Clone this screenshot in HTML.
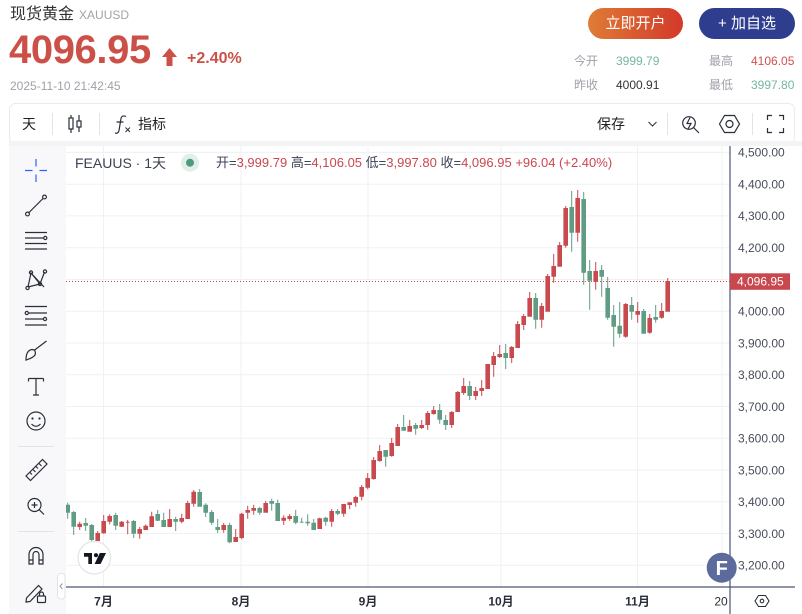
<!DOCTYPE html>
<html><head><meta charset="utf-8">
<style>
*{margin:0;padding:0;box-sizing:border-box}
html,body{width:802px;height:614px;overflow:hidden;background:#fff;font-family:"Liberation Sans","Noto Sans CJK SC",sans-serif}
.a{position:absolute;white-space:nowrap}
.r{color:#c9474e}
svg{position:absolute;left:0;top:0}
</style></head><body>
<svg width="802" height="614" viewBox="0 0 802 614" xmlns="http://www.w3.org/2000/svg">
  <!-- toolbar card -->
  <rect x="9.5" y="103.5" width="785" height="40" rx="6" fill="#fff" stroke="#ebebef"/>
  <rect x="9" y="141" width="793" height="5" fill="#f3f4f6"/>
  <rect x="9" y="146" width="57" height="468" fill="#f8f8fa"/>
  <!-- toolbar separators -->
  <g stroke="#e0e3eb" stroke-width="1">
    <line x1="52.5" y1="113" x2="52.5" y2="135"/>
    <line x1="99.5" y1="113" x2="99.5" y2="135"/>
    <line x1="667.5" y1="113" x2="667.5" y2="135"/>
    <line x1="752.5" y1="113" x2="752.5" y2="135"/>
  </g>
  <!-- toolbar icons -->
  <g stroke="#2a2e39" stroke-width="1.2" fill="none">
    <path d="M71 115V133M79 115V132"/>
    <rect x="69" y="118" width="4" height="11" fill="#fff"/>
    <rect x="77" y="121" width="4" height="6" fill="#fff"/>
    <path d="M126 116.5Q121.5 114.5 120.8 119.5L119 130.5Q118.3 134 115 133M116.5 122H123.5"/>
    <path d="M125.5 127.5L130 132M130 127.5L125.5 132" stroke-width="1"/>
    <path d="M648.5 122L652.5 126L656.5 122" stroke-width="1"/>
    <circle cx="689" cy="123" r="6.3"/>
    <path d="M693.5 127.5L699 133M690 117.5L687 123.5H691L688 129"/>
    <path d="M719.5 124L724.5 115.5H734.5L739.5 124L734.5 132.5H724.5Z"/>
    <circle cx="729.5" cy="124" r="3.5"/>
    <path d="M767.5 120V115.5H772M779 115.5H783.5V120M783.5 128V132.5H779M772 132.5H767.5V128"/>
  </g>
  <!-- chart grid -->
  <g stroke="#f0f1f4" stroke-width="1">
    <path d="M66 152.4H730M66 184.2H730M66 215.9H730M66 247.7H730M66 279.5H730M66 311.2H730M66 343H730M66 374.7H730M66 406.5H730M66 438.2H730M66 470H730M66 501.7H730M66 533.5H730M66 565.2H730"/>
    <path d="M103.5 146V587M241 146V587M368 146V587M501 146V587M637.5 146V587M722 146V587"/>
  </g>
  <!-- candles -->
  <defs><clipPath id="cc"><rect x="66" y="146" width="664" height="441"/></clipPath></defs>
  <g clip-path="url(#cc)" stroke-width="1">
    <path fill="#5f9c83" stroke="#5f9c83" d="M67.7 502.7V518.7M65.9 505.2h3.6v7h-3.6zM73.7 511V535M71.9 512.5h3.6v13.7h-3.6zM85.7 518V531M83.9 523.5h3.6v1.7h-3.6zM91.7 524V544M89.9 525.5h3.6v14h-3.6zM115.7 512.7V530M113.9 515.5h3.6v9.7h-3.6zM133.7 520V538M131.9 521.5h3.6v11.7h-3.6zM157.7 510V521M155.9 514.5h3.6v5.7h-3.6zM163.7 512.7V527M161.9 520.5h3.6v6h-3.6zM175.7 516.7V531M173.9 519.5h3.6v1.7h-3.6zM199.7 489V506.7M197.9 492.5h3.6v13.7h-3.6zM205.7 503.3V517M203.9 505.2h3.6v7h-3.6zM211.7 510V525M209.9 512.5h3.6v9.7h-3.6zM217.7 519V533M215.9 527.5h3.6v2h-3.6zM229.7 522.7V543.3M227.9 525.5h3.6v16.3h-3.6zM259.7 506.7V514.7M257.9 508.5h3.6v3.7h-3.6zM271.7 498.7V510.7M269.9 501.5h3.6v1.7h-3.6zM277.7 499.7V521M275.9 503.5h3.6v17h-3.6zM295.7 510V524.3M293.9 516.5h3.6v5.7h-3.6zM301.7 517.7V522.7M299.9 522.2h3.6v0h-3.6zM307.7 514.3V525.7M305.9 522.2h3.6v0.6h-3.6zM313.7 519V530M311.9 523.2h3.6v6.3h-3.6zM325.7 516.7V525.7M323.9 518.2h3.6v3h-3.6zM337.7 509V515.3M335.9 511.5h3.6v1.7h-3.6zM385.7 450V466.7M383.9 450.5h3.6v5.7h-3.6zM403.7 415V430.7M401.9 427.5h3.6v2.7h-3.6zM415.7 423V434.7M413.9 425.5h3.6v2.7h-3.6zM439.7 404V423.7M437.9 410.5h3.6v8.7h-3.6zM445.7 415V430M443.9 420.5h3.6v4h-3.6zM469.7 381V400M467.9 386.5h3.6v9h-3.6zM505.7 344V369M503.9 353.5h3.6v4h-3.6zM535.7 293V328.7M533.9 298.5h3.6v20.7h-3.6zM571.7 191V251.7M569.9 207.5h3.6v24.7h-3.6zM583.7 192V284.7M581.9 199.5h3.6v72.7h-3.6zM589.7 260V309.7M587.9 271.5h3.6v8.7h-3.6zM601.7 265V296.7M599.9 270.5h3.6v5.7h-3.6zM607.7 277V319.7M605.9 288.5h3.6v28.7h-3.6zM613.7 305V346.7M611.9 315.5h3.6v10.7h-3.6zM619.7 302V337.7M617.9 326.2h3.6v7h-3.6zM631.7 297V319.7M629.9 305.5h3.6v5.7h-3.6zM643.7 309V333.7M641.9 311.5h3.6v21.7h-3.6zM655.7 305V322.7M653.9 317.5h3.6v1.7h-3.6z"/>
    <path fill="#c84a4e" stroke="#c84a4e" d="M79.7 521.7V530M77.9 524.2h3.6v2.3h-3.6zM97.7 531V541M95.9 533.5h3.6v7h-3.6zM103.7 515V533.7M101.9 521.5h3.6v11.2h-3.6zM109.7 514.3V524.3M107.9 516.5h3.6v4.7h-3.6zM121.7 521V527M119.9 522.2h3.6v4h-3.6zM127.7 520V534.3M125.9 522.2h3.6v0h-3.6zM139.7 527V538.7M137.9 529.5h3.6v3.7h-3.6zM145.7 524.5V530M143.9 526.2h3.6v3.3h-3.6zM151.7 511.7V527M149.9 516.8h3.6v9.7h-3.6zM169.7 509V527M167.9 519.5h3.6v7h-3.6zM181.7 513.7V523.3M179.9 518.5h3.6v2.7h-3.6zM187.7 500.7V519M185.9 503.5h3.6v15h-3.6zM193.7 490V506.7M191.9 492.2h3.6v11h-3.6zM223.7 523V532.7M221.9 525.5h3.6v4h-3.6zM235.7 529V542M233.9 537.5h3.6v4h-3.6zM241.7 512.7V539.3M239.9 514.2h3.6v23.3h-3.6zM247.7 505.7V518.7M245.9 510.5h3.6v1.7h-3.6zM253.7 504.7V514.7M251.9 508.5h3.6v1.7h-3.6zM265.7 501V512.7M263.9 503.5h3.6v8.7h-3.6zM283.7 515.3V525M281.9 518.2h3.6v2h-3.6zM289.7 514V520.7M287.9 516.5h3.6v2h-3.6zM319.7 517.7V529M317.9 518.8h3.6v9.7h-3.6zM331.7 509V526.7M329.9 511.5h3.6v9.7h-3.6zM343.7 504V516.7M341.9 504.5h3.6v8.7h-3.6zM349.7 502.3V509.3M347.9 502.8h3.6v1.7h-3.6zM355.7 495.7V506.7M353.9 497.5h3.6v4.7h-3.6zM361.7 485V500.3M359.9 487.5h3.6v8.7h-3.6zM367.7 473V489.3M365.9 478.5h3.6v8.7h-3.6zM373.7 457V479.7M371.9 460.5h3.6v18h-3.6zM379.7 445V461.7M377.9 451.5h3.6v9h-3.6zM391.7 438V456.7M389.9 443.5h3.6v12h-3.6zM397.7 424V446M395.9 427.5h3.6v18h-3.6zM409.7 420V431.7M407.9 426.5h3.6v4.7h-3.6zM421.7 420V429M419.9 425.5h3.6v2h-3.6zM427.7 411V430M425.9 413.5h3.6v11h-3.6zM433.7 406V414.7M431.9 410.5h3.6v3h-3.6zM451.7 411V428M449.9 412.5h3.6v12h-3.6zM457.7 391V412M455.9 392.5h3.6v19h-3.6zM463.7 378V395M461.9 386.5h3.6v6h-3.6zM475.7 387V400M473.9 391.5h3.6v4h-3.6zM481.7 380V396M479.9 388.5h3.6v2h-3.6zM487.7 364V389M485.9 364.5h3.6v24h-3.6zM493.7 352V376.7M491.9 356.5h3.6v8h-3.6zM499.7 345V358M497.9 354.5h3.6v2h-3.6zM511.7 346V363M509.9 347.5h3.6v10h-3.6zM517.7 321V348M515.9 324.5h3.6v23h-3.6zM523.7 314V330M521.9 316.5h3.6v8h-3.6zM529.7 292V316.7M527.9 298.5h3.6v17.7h-3.6zM541.7 303V327.7M539.9 306.5h3.6v12.7h-3.6zM547.7 274V311.7M545.9 276.5h3.6v34.7h-3.6zM553.7 254V282.7M551.9 266.5h3.6v9.7h-3.6zM559.7 242V266.7M557.9 245.5h3.6v20.7h-3.6zM565.7 206V247.7M563.9 208.5h3.6v36.7h-3.6zM577.7 190V241.7M575.9 198.5h3.6v33.7h-3.6zM595.7 262V289.7M593.9 271.5h3.6v9.7h-3.6zM625.7 303V337.7M623.9 304.5h3.6v31.7h-3.6zM637.7 302V322.7M635.9 311.5h3.6v2.7h-3.6zM649.7 314V333.7M647.9 318.5h3.6v13.7h-3.6zM661.7 303V318.7M659.9 311.5h3.6v5.7h-3.6zM667.7 278V311.7M665.9 281.5h3.6v29.7h-3.6z"/>
  </g>
  <!-- last price dotted line -->
  <line x1="66" y1="281.5" x2="730" y2="281.5" stroke="#c9474e" stroke-width="1" stroke-dasharray="1 2"/>
  <!-- axes -->
  <line x1="66" y1="587" x2="795" y2="587" stroke="#4c5475" stroke-width="1.2"/>
  <line x1="730" y1="146" x2="730" y2="614" stroke="#4c5475" stroke-width="1.2"/>
  <!-- price axis labels -->
  <g font-family="Liberation Sans, sans-serif" font-size="12" fill="#4a4e5c">
    <text x="738" y="156.7">4,500.00</text>
    <text x="738" y="188.5">4,400.00</text>
    <text x="738" y="220.2">4,300.00</text>
    <text x="738" y="252">4,200.00</text>
    <text x="738" y="315.5">4,000.00</text>
    <text x="738" y="347.3">3,900.00</text>
    <text x="738" y="379">3,800.00</text>
    <text x="738" y="410.8">3,700.00</text>
    <text x="738" y="442.5">3,600.00</text>
    <text x="738" y="474.3">3,500.00</text>
    <text x="738" y="506">3,400.00</text>
    <text x="738" y="537.8">3,300.00</text>
    <text x="738" y="569.5">3,200.00</text>
  </g>
  <rect x="730" y="273.3" width="60" height="16.5" fill="#c9474e"/>
  <text x="737" y="285.7" font-family="Liberation Sans, sans-serif" font-size="12" fill="#fff">4,096.95</text>
  <!-- time axis labels -->
  <g font-family="Liberation Sans, Noto Sans CJK SC, sans-serif" font-size="12" font-weight="bold" fill="#2a2e39" text-anchor="middle">
    <text x="103.5" y="605.5">7月</text>
    <text x="241" y="605.5">8月</text>
    <text x="368" y="605.5">9月</text>
    <text x="501" y="605.5">10月</text>
    <text x="637.5" y="605.5">11月</text>
    <text x="721" y="605.5" font-weight="normal">20</text>
  </g>
  <!-- settings hex -->
  <g stroke="#2a2e39" stroke-width="1.1" fill="none">
    <path d="M755 601L758.5 595.5H765.5L769 601L765.5 606.5H758.5Z"/>
    <circle cx="762" cy="601" r="1.8"/>
  </g>
  <!-- F badge -->
  <circle cx="721.7" cy="567.7" r="15" fill="#5c6b9c"/>
  <text x="721.7" y="574.8" text-anchor="middle" font-family="Liberation Sans, sans-serif" font-size="20" font-weight="bold" fill="#fff">F</text>
  <!-- TV logo -->
  <circle cx="94.3" cy="557.7" r="16.3" fill="#fff" stroke="#e3e5ec" stroke-width="1.3"/>
  <path fill="#131722" d="M84 553H92V564H88.3V556.7H84ZM99.8 553H106L100.6 564H94.6Z"/>
  <circle cx="96" cy="555.2" r="2.1" fill="#131722"/>
  <!-- collapse handle -->
  <rect x="57.5" y="573.5" width="7.5" height="25.5" rx="3" fill="#fff" stroke="#e0e3eb"/>
  <path d="M62.5 583.5L60 586.3L62.5 589" stroke="#9598a1" stroke-width="1" fill="none"/>
  <!-- left toolbar icons -->
  <path d="M25 170.5H32.5M39.5 170.5H47M36 159V166.5M36 174.5V182" stroke="#2962ff" stroke-width="1.2" fill="none"/>
  <g stroke="#2a2e39" stroke-width="1.2" fill="none">
    <path d="M29 212.5L43 198.5"/>
    <circle cx="27.5" cy="214" r="1.9"/><circle cx="44.5" cy="197" r="1.9"/>
    <path d="M25 232.5H47M25 238H43.5M25 243.5H47M25 249H47"/>
    <circle cx="45.3" cy="238" r="1.6"/>
    <path d="M28 287L31 273L40 284L44.5 272M31 273L44 287M28 287L40 284"/>
    <circle cx="27.5" cy="288" r="1.6"/><circle cx="31" cy="272.5" r="1.6"/><circle cx="40" cy="284" r="1.6"/><circle cx="45" cy="271.5" r="1.6"/>
    <path d="M25 306.5H47M29 313H47M25 319H43M25 325H47"/>
    <circle cx="26.8" cy="313" r="1.6"/><circle cx="45" cy="319" r="1.6"/>
    <path d="M26 360C26 354 28 350 32 349.5C35 349.5 36 352 35 355C33 358 29 359 26 360ZM34 350.5L46.5 341"/>
    <path d="M28.5 378.5H43.5M36 378.5V395M28.5 378.5V381.5M43.5 378.5V381.5M33 395H39"/>
    <circle cx="36" cy="421" r="9"/>
    <path d="M31.5 424Q36 428.5 40.5 424"/>
    <path d="M26 476L42.5 459.5L47 464L30.5 480.5Z"/>
    <path d="M30 472.5L32 474.5M33 469.5L35.5 472M36 466.5L38 468.5M39 463.5L41.5 466"/>
    <circle cx="34.5" cy="505" r="6.5"/>
    <path d="M39.3 509.8L44 514.5M31.5 505H37.5M34.5 502V508"/>
    <path d="M29 564V554.5A7 7 0 0 1 43 554.5V564H39V554.5A3 3 0 0 0 33 554.5V564ZM29 560H33M39 560H43"/>
    <path d="M26.5 598L38.5 585.5L42 589L30 601.5L26 602Z"/>
    <rect x="37.5" y="596" width="8" height="6.5" rx="1"/>
    <path d="M39.5 596V594A2 2 0 0 1 43.5 594V596"/>
  </g>
  <g fill="#2a2e39"><circle cx="32.5" cy="418.5" r="1.1"/><circle cx="39.5" cy="418.5" r="1.1"/></g>
  <line x1="18" y1="446.5" x2="54" y2="446.5" stroke="#e0e3eb"/>
  <line x1="18" y1="531.5" x2="54" y2="531.5" stroke="#e0e3eb"/>
  <!-- legend dot -->
  <circle cx="190" cy="162.7" r="9" fill="#e1efe8"/>
  <circle cx="190" cy="162.7" r="4" fill="#4d9b7c"/>
  <!-- price arrow -->
  <path d="M169.5 48L177 57H172.5V66H166.5V57H162Z" fill="#cc5048"/>
</svg>

<div class="a" style="left:10px;top:5px;font-size:16px;line-height:20px;color:#333">现货黄金<span style="font-size:12px;color:#a3a3ab;margin-left:5px">XAUUSD</span></div>
<div class="a" style="left:9px;top:30px;font-size:40px;line-height:40px;font-weight:bold;color:#cc5048;letter-spacing:-0.4px">4096.95</div>
<div class="a" style="left:187px;top:49px;font-size:16px;line-height:20px;font-weight:bold;color:#cc5048">+2.40%</div>
<div class="a" style="left:10px;top:79px;font-size:12px;line-height:14px;color:#a0a0a8">2025-11-10 21:42:45</div>

<div class="a" style="left:588px;top:8px;width:95px;height:31px;border-radius:16px;background:linear-gradient(90deg,#de7c36,#d3392a);color:#fff;font-size:15px;line-height:31px;text-align:center">立即开户</div>
<div class="a" style="left:699px;top:8px;width:96px;height:31px;border-radius:16px;background:#2f3d8f;color:#fff;font-size:15px;line-height:31px;text-align:center">+ 加自选</div>

<div class="a" style="left:574px;top:54px;font-size:12px;line-height:15px;color:#a0a0a8">今开</div>
<div class="a" style="left:616px;top:54px;font-size:12px;line-height:15px;color:#75b89e">3999.79</div>
<div class="a" style="left:709px;top:54px;font-size:12px;line-height:15px;color:#a0a0a8">最高</div>
<div class="a" style="left:751px;top:54px;font-size:12px;line-height:15px;color:#d0524a">4106.05</div>
<div class="a" style="left:574px;top:78px;font-size:12px;line-height:15px;color:#a0a0a8">昨收</div>
<div class="a" style="left:616px;top:78px;font-size:12px;line-height:15px;color:#333">4000.91</div>
<div class="a" style="left:709px;top:78px;font-size:12px;line-height:15px;color:#a0a0a8">最低</div>
<div class="a" style="left:751px;top:78px;font-size:12px;line-height:15px;color:#75b89e">3997.80</div>

<div class="a" style="left:22px;top:115px;font-size:14px;line-height:18px;color:#222">天</div>
<div class="a" style="left:138px;top:115px;font-size:14px;line-height:18px;color:#222">指标</div>
<div class="a" style="left:597px;top:115px;font-size:14px;line-height:18px;color:#222">保存</div>

<div class="a" style="left:75px;top:154px;font-size:14px;line-height:18px;color:#3d4255">FEAUUS · 1天</div>
<div class="a" style="left:216px;top:155px;font-size:13px;line-height:16px;color:#3d4255">开=<span class="r">3,999.79</span> 高=<span class="r">4,106.05</span> 低=<span class="r">3,997.80</span> 收=<span class="r">4,096.95</span> <span class="r">+96.04 (+2.40%)</span></div>
</body></html>
